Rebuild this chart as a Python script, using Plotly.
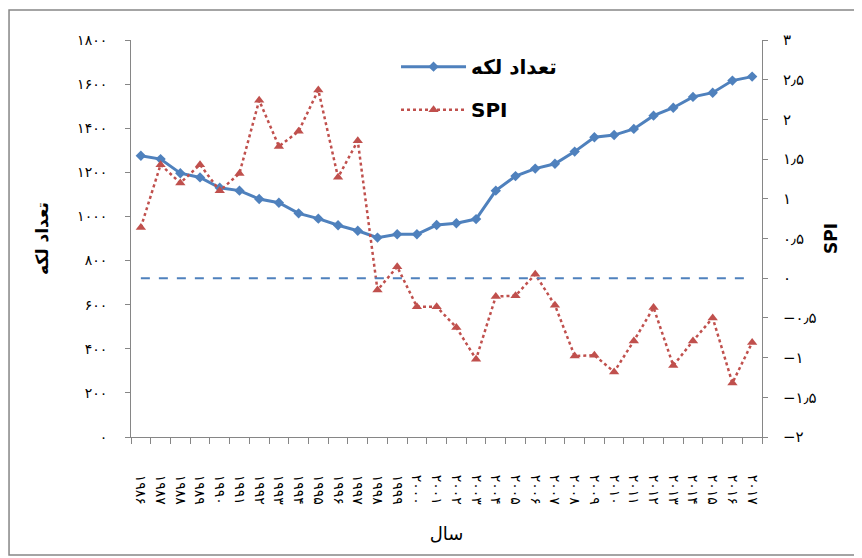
import plotly.graph_objects as go

years = ["۱۹۸۶", "۱۹۸۷", "۱۹۸۸", "۱۹۸۹", "۱۹۹۰", "۱۹۹۱", "۱۹۹۲", "۱۹۹۳",
         "۱۹۹۴", "۱۹۹۵", "۱۹۹۶", "۱۹۹۷", "۱۹۹۸", "۱۹۹۹", "۲۰۰۰", "۲۰۰۱",
         "۲۰۰۲", "۲۰۰۳", "۲۰۰۴", "۲۰۰۵", "۲۰۰۶", "۲۰۰۷", "۲۰۰۸", "۲۰۰۹",
         "۲۰۱۰", "۲۰۱۱", "۲۰۱۲", "۲۰۱۳", "۲۰۱۴", "۲۰۱۵", "۲۰۱۶", "۲۰۱۷"]

spot_count = [1275, 1260, 1196, 1177, 1130, 1117, 1079, 1062, 1014, 990, 960, 935,
              904, 919, 919, 961, 969, 988, 1117, 1183, 1217, 1239, 1294, 1359,
              1369, 1397, 1457, 1493, 1542, 1561, 1616, 1634]

spi = [0.64, 1.43, 1.20, 1.43, 1.10, 1.32, 2.24, 1.66, 1.85, 2.37, 1.27, 1.73,
       -0.15, 0.145, -0.36, -0.36, -0.62, -1.02, -0.23, -0.22, 0.05, -0.34, -0.98, -0.97,
       -1.18, -0.79, -0.37, -1.10, -0.79, -0.50, -1.32, -0.81]

spi_zero = [0] * len(years)

left_ticks = [0, 200, 400, 600, 800, 1000, 1200, 1400, 1600, 1800]
left_text = ["۰", "۲۰۰", "۴۰۰", "۶۰۰", "۸۰۰", "۱۰۰۰", "۱۲۰۰", "۱۴۰۰", "۱۶۰۰", "۱۸۰۰"]
right_ticks = [-2, -1.5, -1, -0.5, 0, 0.5, 1, 1.5, 2, 2.5, 3]
right_text = ["−۲", "−۱٫۵", "−۱", "−۰٫۵", "۰", "۰٫۵", "۱", "۱٫۵", "۲", "۲٫۵", "۳"]

BLUE = "#4F81BD"
RED = "#C0504D"
AXIS = "#868686"
FONT = "DejaVu Sans"

fig = go.Figure()
fig.add_trace(go.Scatter(
    x=years, y=spot_count, name="تعداد لکه", mode="lines+markers",
    line=dict(color=BLUE, width=3), marker=dict(symbol="diamond", size=8, color=BLUE),
    legendgroup="a"))
fig.add_trace(go.Scatter(
    x=years, y=spi, name="SPI", mode="lines+markers", yaxis="y2",
    line=dict(color=RED, width=2.5, dash="dot"),
    marker=dict(symbol="triangle-up", size=9, color=RED),
    legendgroup="b"))
fig.add_trace(go.Scatter(
    x=years, y=spi_zero, mode="lines", yaxis="y2", showlegend=False,
    line=dict(color=BLUE, width=2, dash="dash"), hoverinfo="skip"))

fig.update_layout(
    width=862, height=558,
    margin=dict(l=123, r=108, t=32, b=129, autoexpand=False),
    plot_bgcolor="white", paper_bgcolor="white",
    font=dict(family=FONT, color="#000000", size=12),
    showlegend=True,
    legend=dict(x=0.42, y=0.982, xanchor="left", yanchor="top",
                bgcolor="rgba(0,0,0,0)", font=dict(size=20, family=FONT, weight="bold"),
                tracegroupgap=14, traceorder="grouped", itemwidth=65),
    xaxis=dict(type="category", range=[-0.5, len(years) - 0.5], automargin=False,
               tickson="boundaries", ticks="outside", ticklen=6, tickcolor=AXIS,
               showline=True, linecolor=AXIS, linewidth=1, showgrid=False,
               tickangle=90, tickfont=dict(size=14), ticklabelstandoff=34,
               title=dict(text="سال", font=dict(size=18), standoff=23)),
    yaxis=dict(range=[0, 1800], tickvals=left_ticks, ticktext=left_text, automargin=False,
               ticks="outside", ticklen=5, tickcolor=AXIS, showline=True,
               linecolor=AXIS, linewidth=1, showgrid=False, zeroline=False,
               tickfont=dict(size=14), ticklabelstandoff=15,
               title=dict(text="<b>تعداد لکه</b>", font=dict(size=17), standoff=24)),
    yaxis2=dict(range=[-2, 3], tickvals=right_ticks, ticktext=right_text, automargin=False,
                overlaying="y", side="right",
                ticks="outside", ticklen=5, tickcolor=AXIS, showline=True,
                linecolor=AXIS, linewidth=1, showgrid=False, zeroline=False,
                tickfont=dict(size=15), ticklabelstandoff=12,
                title=dict(text="<b>SPI</b>", font=dict(size=17), standoff=9)),
)

fig.add_shape(type="rect", xref="paper", yref="paper",
              x0=-0.1933, x1=1.152, y0=-0.297, y1=1.0756,
              line=dict(color=AXIS, width=1.5), fillcolor="rgba(0,0,0,0)", layer="below")

fig.write_html("out.html")
